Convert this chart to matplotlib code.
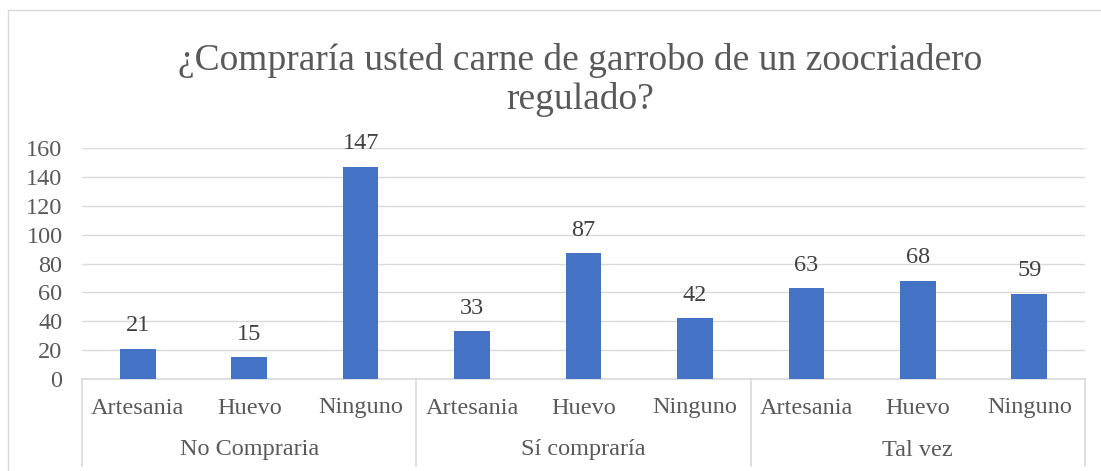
import matplotlib.pyplot as plt
from matplotlib.lines import Line2D
from matplotlib.transforms import blended_transform_factory

# Datos
groups = ['No Compraria', 'Sí compraría', 'Tal vez']
subcats = ['Artesania', 'Huevo', 'Ninguno']
values = [21, 15, 147, 33, 87, 42, 63, 68, 59]
yticks = [0, 20, 40, 60, 80, 100, 120, 140, 160]

W, H = 1101, 471
plt.rcParams['font.family'] = ['Liberation Serif', 'DejaVu Serif']
txt = '#595959'
fs = 17.5

fig = plt.figure(figsize=(W / 100, H / 100), dpi=100)

# chart border (only left and top visible in the crop)
fig.add_artist(Line2D([8 / W, 8 / W], [0, 1 - 10 / H], color='#D9D9D9', lw=1))
fig.add_artist(Line2D([8 / W, 1], [1 - 10 / H, 1 - 10 / H], color='#D9D9D9', lw=1))

x0, x1, ytop, ybot = 82, 1085, 148, 379
ax = fig.add_axes([x0 / W, 1 - ybot / H, (x1 - x0) / W, (ybot - ytop) / H])

n = len(values)
xs = list(range(n))
ax.bar(xs, values, width=0.32, color='#4472C4', zorder=3)
for x, v in zip(xs, values):
    ax.annotate(str(v), (x, v), xytext=(0, 9), textcoords='offset points',
                ha='center', va='bottom', fontsize=fs, color='#404040')

ax.set_xlim(-0.5, n - 0.5)
ax.set_ylim(0, 160)
ax.set_yticks(yticks)
ax.tick_params(axis='y', length=0, labelsize=fs, labelcolor=txt, pad=14)
ax.set_xticks([])
ax.grid(axis='y', color='#D9D9D9', lw=1, zorder=0)
for s in ['top', 'right', 'left']:
    ax.spines[s].set_visible(False)
ax.spines['bottom'].set_color('#D9D9D9')
ax.spines['bottom'].set_linewidth(1.2)

# multi-level category axis
tr = blended_transform_factory(ax.transData, ax.transAxes)
ph = ybot - ytop
for x, v in zip(xs, values):
    ax.text(x, -(408 - ybot) / ph, subcats[x % 3], transform=tr, ha='center',
            va='center', fontsize=fs, color=txt)
for g, name in enumerate(groups):
    ax.text(g * 3 + 1, -(450 - ybot) / ph, name, transform=tr, ha='center',
            va='center', fontsize=fs, color=txt)
for b in range(len(groups) + 1):
    ax.add_line(Line2D([b * 3 - 0.5] * 2, [0, -(466 - ybot) / ph], transform=tr,
                       color='#D9D9D9', lw=1.2, clip_on=False))

fig.text(580 / W, 1 - 80 / H,
         '¿Compraría usted carne de garrobo de un zoocriadero\nregulado?',
         ha='center', va='center', fontsize=27, color=txt, linespacing=1.12)

fig.savefig('out.png', dpi=100)
